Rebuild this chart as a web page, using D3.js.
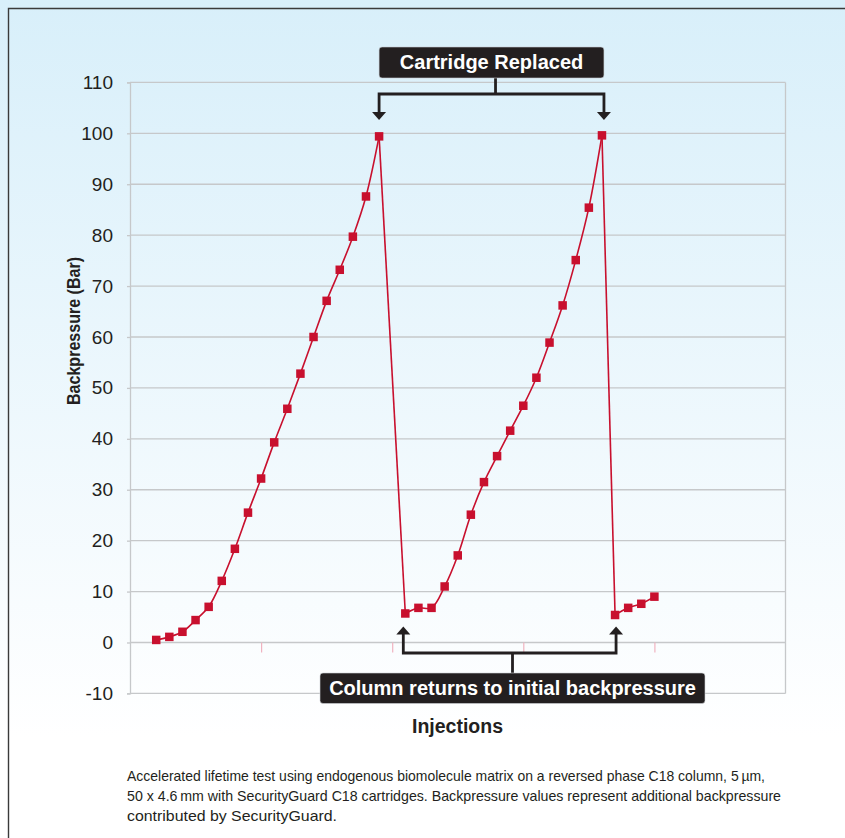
<!DOCTYPE html>
<html>
<head>
<meta charset="utf-8">
<script src="https://cdn.jsdelivr.net/npm/d3@7"></script>
<style>
  html, body { margin: 0; padding: 0; background: #fff; }
  svg { display: block; }
</style>
</head>
<body>
<svg id="chart" width="845" height="838"></svg>
<script>
// ---- Data ----
const injections = [2,3,4,5,6,7,8,9,10,11,12,13,14,15,16,17,18,19,
                    21,22,23,24,25,26,27,28,29,30,31,32,33,34,35,36,
                    37,38,39,40];
const backpressure = [0.5,1.1,2.1,4.4,7.0,12.1,18.4,25.5,32.2,39.3,45.9,52.8,60.0,67.1,73.2,79.7,87.6,99.4,
                      5.7,6.8,6.8,11.0,17.1,25.1,31.5,36.6,41.6,46.5,52.0,58.9,66.2,75.1,85.4,99.6,
                      5.4,6.8,7.6,9.0];
const yTicks = [-10,0,10,20,30,40,50,60,70,80,90,100,110];
const xTicks = [10,20,30,40];
const xDomain = [0,50];
const yDomain = [-10,110];
const replacedAt = [19,36];     // injections where cartridge was replaced (peaks)
const returnsAt = [21,37];      // injections where backpressure returns to initial
const labels = {
  y: "Backpressure (Bar)",
  x: "Injections",
  top: "Cartridge Replaced",
  bottom: "Column returns to initial backpressure"
};
const caption = [
  "Accelerated lifetime test using endogenous biomolecule matrix on a reversed phase C18 column, 5\u2009\u00b5m,",
  "50 x 4.6\u2009mm with SecurityGuard C18 cartridges. Backpressure values represent additional backpressure",
  "contributed by SecurityGuard."
];

// ---- Layout ----
const svg = d3.select("#chart");
const W = 845, H = 838;
const plot = {left: 130, right: 785.5, top: 82.4, bottom: 693.4};
const x = d3.scaleLinear().domain(xDomain).range([plot.left, plot.right]);
const y = d3.scaleLinear().domain(yDomain).range([plot.bottom, plot.top]);
const RED = "#c8102e", DARK = "#231f20", GRID = "#c6c8ca";
const FONT = "'Liberation Sans', Arial, Helvetica, sans-serif";

// background gradient
const defs = svg.append("defs");
const grad = defs.append("linearGradient").attr("id","bg").attr("x1",0).attr("y1",0).attr("x2",0).attr("y2",1);
grad.append("stop").attr("offset","0%").attr("stop-color","#d8effa");
grad.append("stop").attr("offset","88%").attr("stop-color","#ffffff");
grad.append("stop").attr("offset","100%").attr("stop-color","#ffffff");
svg.append("rect").attr("width",W).attr("height",H).attr("fill","url(#bg)");

// frame lines (top and left)
svg.append("path").attr("d",`M8.5,${H} L8.5,8.5 L${W},8.5`).attr("fill","none")
  .attr("stroke","#3a3a3a").attr("stroke-width",1.4);

// gridlines
svg.append("g").selectAll("line").data(yTicks).join("line")
  .attr("x1",plot.left).attr("x2",plot.right)
  .attr("y1",d=>y(d)).attr("y2",d=>y(d))
  .attr("stroke",GRID).attr("stroke-width",1.3);
// right border
svg.append("line").attr("x1",plot.right).attr("x2",plot.right).attr("y1",plot.top).attr("y2",plot.bottom)
  .attr("stroke",GRID).attr("stroke-width",1.3);

// y axis
const yAxis = svg.append("g").attr("transform",`translate(${plot.left},0)`)
  .call(d3.axisLeft(y).tickValues(yTicks).tickSize(3).tickPadding(14).tickFormat(d => String(d)));
yAxis.select(".domain").attr("stroke",GRID).attr("stroke-width",1.3);
yAxis.selectAll(".tick line").attr("stroke",GRID).attr("stroke-width",1.3);
yAxis.selectAll("text").attr("fill",DARK).style("font-family",FONT).style("font-size","19px");

// x axis ticks (pink, no labels)
const xAxis = svg.append("g").attr("transform",`translate(0,${y(0)})`)
  .call(d3.axisBottom(x).tickValues(xTicks).tickSize(10).tickFormat(""));
xAxis.select(".domain").remove();
xAxis.selectAll(".tick line").attr("stroke","#f0b3c0").attr("stroke-width",1.2);

// axis titles
svg.append("text").attr("transform",`translate(80,331) rotate(-90)`)
  .attr("text-anchor","middle").attr("fill",DARK)
  .attr("textLength",148).attr("lengthAdjust","spacingAndGlyphs")
  .style("font-family",FONT).style("font-weight","bold").style("font-size","18.5px")
  .text(labels.y);
svg.append("text").attr("x",457.5).attr("y",733).attr("text-anchor","middle").attr("fill",DARK)
  .style("font-family",FONT).style("font-weight","bold").style("font-size","19.5px")
  .text(labels.x);

// data: smoothed rising runs, straight drops where the cartridge was replaced
const pts = injections.map((d,i)=>({x:d, y:backpressure[i]}));
const runs = [[]];
pts.forEach((p,i) => {
  if (i > 0 && p.y < pts[i-1].y - 40) runs.push([]);
  runs[runs.length-1].push(p);
});
const smooth = d3.line().x(d=>x(d.x)).y(d=>y(d.y)).curve(d3.curveCatmullRom.alpha(0.5));
const straight = d3.line().x(d=>x(d.x)).y(d=>y(d.y));
const lineG = svg.append("g").attr("fill","none").attr("stroke",RED).attr("stroke-width",1.6);
lineG.selectAll("path.run").data(runs).join("path").attr("class","run").attr("d",smooth);
const drops = runs.slice(1).map((r,i) => [runs[i][runs[i].length-1], r[0]]);
lineG.selectAll("path.drop").data(drops).join("path").attr("class","drop").attr("d",straight);

const MS = 8.5;
svg.append("g").selectAll("rect").data(pts).join("rect")
  .attr("x",d=>x(d.x)-MS/2).attr("y",d=>y(d.y)-MS/2).attr("width",MS).attr("height",MS)
  .attr("fill",RED);

// ---- annotations ----
function arrowHead(g, cx, tipY, dir) { // dir: 1 = pointing down, -1 = up
  const w = 7, h = 8;
  g.append("path").attr("d",`M${cx-w},${tipY - dir*h} L${cx+w},${tipY - dir*h} L${cx},${tipY} Z`).attr("fill",DARK);
}
const ann = svg.append("g");
// top
{
  const xa = x(replacedAt[0]), xb = x(replacedAt[1]) + 2;
  const boxL = xa, boxR = xb, boxT = 47, boxB = 78;
  const barY = 94, tipY = 120, stemX = (boxL+boxR)/2 + 4;
  ann.append("path").attr("d",`M${stemX},${boxB} L${stemX},${barY} M${xa},${tipY-7} L${xa},${barY} L${xb},${barY} L${xb},${tipY-7}`)
    .attr("fill","none").attr("stroke",DARK).attr("stroke-width",2.8).attr("stroke-linejoin","miter");
  arrowHead(ann, xa, tipY, 1); arrowHead(ann, xb, tipY, 1);
  ann.append("rect").attr("x",boxL).attr("y",boxT).attr("width",boxR-boxL).attr("height",boxB-boxT)
    .attr("rx",3).attr("fill",DARK).attr("stroke","#c9cfd3").attr("stroke-width",0.6);
  ann.append("text").attr("x",(boxL+boxR)/2).attr("y",68.5).attr("text-anchor","middle").attr("fill","#fff")
    .style("font-family",FONT).style("font-weight","bold").style("font-size","20px")
    .text(labels.top);
}
// bottom
{
  const xa = x(returnsAt[0]) - 2, xb = x(returnsAt[1]) + 1;
  const boxL = 320, boxR = 705, boxT = 673, boxB = 703.5;
  const barY = 653, tipY = 626.5, stemX = (boxL+boxR)/2;
  ann.append("path").attr("d",`M${stemX},${boxT} L${stemX},${barY} M${xa},${tipY+7} L${xa},${barY} L${xb},${barY} L${xb},${tipY+7}`)
    .attr("fill","none").attr("stroke",DARK).attr("stroke-width",2.8);
  arrowHead(ann, xa, tipY, -1); arrowHead(ann, xb, tipY, -1);
  ann.append("rect").attr("x",boxL).attr("y",boxT).attr("width",boxR-boxL).attr("height",boxB-boxT)
    .attr("rx",3).attr("fill",DARK).attr("stroke","#d0d4d6").attr("stroke-width",0.6);
  ann.append("text").attr("x",(boxL+boxR)/2).attr("y",694.5).attr("text-anchor","middle").attr("fill","#fff")
    .style("font-family",FONT).style("font-weight","bold").style("font-size","20px")
    .text(labels.bottom);
}

// caption
const capW = [638, 654, 210];
const capY = [781, 801, 821];
svg.append("g").selectAll("text").data(caption).join("text")
  .attr("x",127).attr("y",(d,i)=>capY[i]).attr("fill",DARK)
  .attr("textLength",(d,i)=>capW[i]).attr("lengthAdjust","spacingAndGlyphs")
  .style("font-family","'Liberation Sans Narrow', 'Liberation Sans', Arial, sans-serif").style("font-size","14.5px")
  .text(d=>d);
</script>
</body>
</html>
